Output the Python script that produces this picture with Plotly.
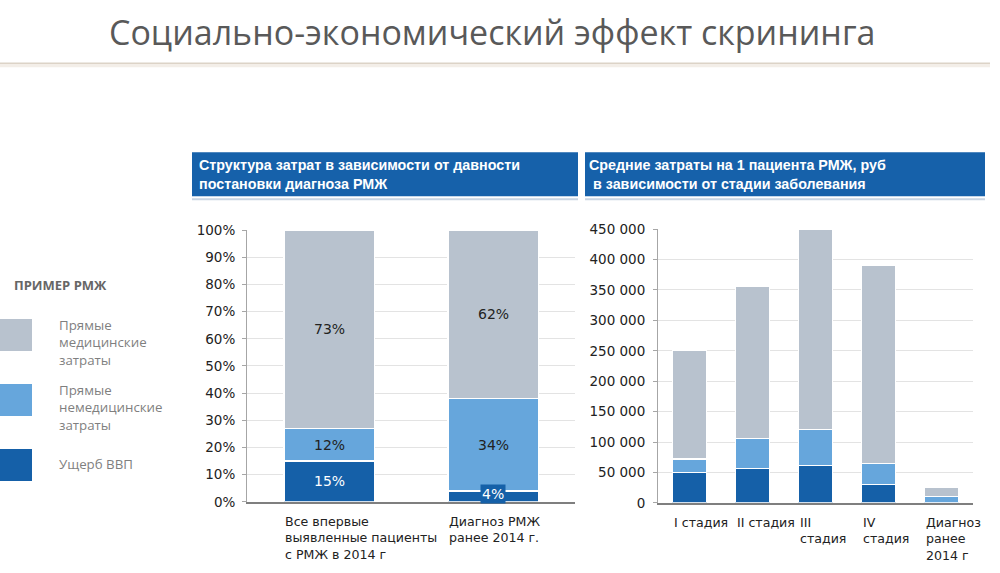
import plotly.graph_objects as go

# данные: структура затрат, %
share_cats = ["all2014", "before2014"]
share_labels = ["Все впервые<br>выявленные пациенты<br>с РМЖ в 2014 г", "Диагноз РМЖ<br>ранее 2014 г."]
share_gdp = [15, 4]
share_nonmed = [12, 34]
share_med = [73, 62]

# данные: средние затраты на пациента, руб
stage_cats = ["I", "II", "III", "IV", "early"]
stage_labels = ["I стадия", "II стадия", "III<br>стадия", "IV<br>стадия", "Диагноз<br>ранее<br>2014 г"]
stage_gdp = [50000, 56000, 61000, 30000, 0]
stage_nonmed = [22000, 50000, 60000, 35000, 10000]
stage_med = [178000, 249000, 329000, 325000, 15000]

series_names = ["Ущерб ВВП", "Прямые немедицинские затраты", "Прямые медицинские затраты"]

C_MED = "#B8C2CE"
C_NONMED = "#66A6DC"
C_GDP = "#1560A8"
C_HEAD = "#1661AA"
FONT = "Liberation Sans, Arial, sans-serif"
TFONT = "DejaVu Sans, sans-serif"
W, H = 1000, 573


def px(x):
    return x / W


def py(y):
    # в снимке бумага занимает ~557 px по высоте со сдвигом ~7 px
    return 1 - (y - 6.7) / 557.5


fig = go.Figure()

for vals, col, name in zip([share_gdp, share_nonmed, share_med], [C_GDP, C_NONMED, C_MED], series_names):
    fig.add_trace(go.Bar(x=share_cats, y=vals, marker=dict(color=col, line=dict(color="white", width=1.2)),
                         width=0.55, name=name, xaxis="x", yaxis="y", showlegend=False, hoverinfo="y"))

for vals, col, name in zip([stage_gdp, stage_nonmed, stage_med], [C_GDP, C_NONMED, C_MED], series_names):
    fig.add_trace(go.Bar(x=stage_cats, y=vals, marker=dict(color=col, line=dict(color="white", width=1.2)),
                         width=0.54, name=name, xaxis="x2", yaxis="y2", showlegend=False, hoverinfo="y"))

annotations = []
shapes = []

# подписи долей внутри столбцов
for i, c in enumerate(share_cats):
    base = 0
    for vals, tc in zip([share_gdp, share_nonmed, share_med], ["white", "#222222", "#222222"]):
        v = vals[i]
        a = dict(x=c, y=base + v / 2, xref="x", yref="y", text=f"{v}%", showarrow=False,
                 yanchor="middle", font=dict(family=TFONT, size=14, color=tc))
        if v < 8:
            a.update(bgcolor=C_GDP, borderpad=1, yshift=2)
        annotations.append(a)
        base += v

# подписи категорий, выровненные по левому краю столбца
for c, t in zip(share_cats, share_labels):
    annotations.append(dict(x=c, y=0, xref="x", yref="y", text=t, showarrow=False, xanchor="left",
                            yanchor="top", align="left", xshift=-46, yshift=-10,
                            font=dict(family=TFONT, size=12.6, color="#222222")))
for c, t in zip(stage_cats, stage_labels):
    annotations.append(dict(x=c, y=0, xref="x2", yref="y2", text=t, showarrow=False, xanchor="left",
                            yanchor="top", align="left", xshift=-18, yshift=-10,
                            font=dict(family=TFONT, size=12.6, color="#222222")))

# заголовки блоков
for x0, x1, txt, tx in [(192, 578, "Структура затрат в зависимости от давности<br>постановки диагноза РМЖ", 197),
                        (585, 985, "Средние затраты на 1 пациента РМЖ, руб<br> в зависимости от стадии заболевания", 587)]:
    shapes.append(dict(type="rect", xref="paper", yref="paper", x0=px(x0), x1=px(x1), y0=py(195), y1=py(151),
                       fillcolor=C_HEAD, line=dict(width=0), layer="below"))
    shapes.append(dict(type="line", xref="paper", yref="paper", x0=px(x0), x1=px(x1), y0=py(198), y1=py(198),
                       line=dict(color="#C9D5E3", width=2)))
    annotations.append(dict(x=px(tx), y=py(173), xref="paper", yref="paper", text=f"<b>{txt}</b>",
                            showarrow=False, xanchor="left", yanchor="middle", align="left",
                            font=dict(family=FONT, size=14.3, color="white")))

# заголовок слайда
annotations.append(dict(x=px(492), y=py(31), xref="paper", yref="paper",
                        text="Социально-экономический эффект скрининга", showarrow=False,
                        xanchor="center", yanchor="middle",
                        font=dict(family="Open Sans, sans-serif", size=34, color="#595959")))
shapes.append(dict(type="line", xref="paper", yref="paper", x0=0, x1=px(990), y0=py(64), y1=py(64),
                   line=dict(color="#F3EEE8", width=4)))
shapes.append(dict(type="line", xref="paper", yref="paper", x0=0, x1=px(990), y0=py(62), y1=py(62),
                   line=dict(color="#DCD3C7", width=1.5)))

# легенда слева
annotations.append(dict(x=px(12), y=py(284), xref="paper", yref="paper", text="<b>ПРИМЕР РМЖ</b>",
                        showarrow=False, xanchor="left", yanchor="middle",
                        font=dict(family="Open Sans, sans-serif", size=13, color="#666666")))
legend_items = [(C_MED, 318, "Прямые<br>медицинские<br>затраты", 342),
                (C_NONMED, 383, "Прямые<br>немедицинские<br>затраты", 407),
                (C_GDP, 448, "Ущерб ВВП", 463)]
for col, y0, txt, ty in legend_items:
    shapes.append(dict(type="rect", xref="paper", yref="paper", x0=0, x1=px(32), y0=py(y0 + 32), y1=py(y0),
                       fillcolor=col, line=dict(width=0)))
    annotations.append(dict(x=px(57), y=py(ty), xref="paper", yref="paper", text=txt, showarrow=False,
                            xanchor="left", yanchor="middle", align="left",
                            font=dict(family="Open Sans, sans-serif", size=13.3, color="#7F7F7F")))

axis_font = dict(family=TFONT, size=13.5, color="#222222")

fig.update_layout(
    width=W, height=H,
    margin=dict(l=0, r=0, t=0, b=0),
    paper_bgcolor="white", plot_bgcolor="white",
    barmode="stack",
    separators=", ",
    xaxis=dict(domain=[px(247), px(575)], anchor="y", range=[-0.5, 1.5], showticklabels=False, ticks="",
               showline=True, linecolor="#7F7F7F", linewidth=2, showgrid=False),
    yaxis=dict(domain=[py(501), py(229)], anchor="x", range=[0, 100], dtick=10, ticksuffix="%",
               tickfont=axis_font, showline=True, linecolor="#A6A6A6", linewidth=1, ticklabelstandoff=4,
               gridcolor="#E3E3E3", ticks="outside", ticklen=4, tickcolor="#A6A6A6", zeroline=False),
    xaxis2=dict(domain=[px(658), px(973)], anchor="y2", range=[-0.5, 4.5], showticklabels=False, ticks="",
                showline=True, linecolor="#7F7F7F", linewidth=2, showgrid=False),
    yaxis2=dict(domain=[py(502), py(228)], anchor="x2", range=[0, 450000], dtick=50000, tickformat=",d",
                tickfont=axis_font, showline=True, linecolor="#A6A6A6", linewidth=1, ticklabelstandoff=5,
                gridcolor="#E3E3E3", ticks="outside", ticklen=4, tickcolor="#A6A6A6", zeroline=False),
    annotations=annotations,
    shapes=shapes,
    bargap=0.45,
)

fig.write_html("out.html", config={"displayModeBar": False},
               post_script="document.body.style.margin='0';")
